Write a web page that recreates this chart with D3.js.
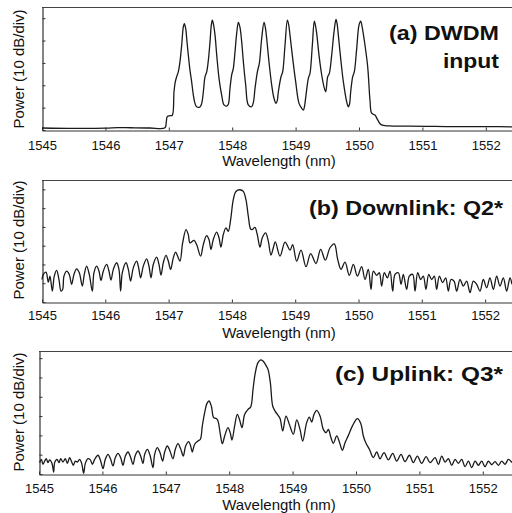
<!DOCTYPE html>
<html>
<head>
<meta charset="utf-8">
<script src="https://cdn.jsdelivr.net/npm/d3@7"></script>
<style>
  body { margin: 0; background: #fff; }
  svg { display: block; }
  text { font-family: Arial, "Liberation Sans", sans-serif; fill: #111; }
</style>
</head>
<body>
<div id="chart"></div>
<script>
// tick labels on every wavelength axis
var wavelengthTicks = [1545, 1546, 1547, 1548, 1549, 1550, 1551, 1552];
var powerTicksA = [-50, -40, -30, -20, -10, 0];
var powerTicksBC = [-60, -50, -40, -30, -20, -10, 0];

// (a) DWDM input spectrum, wavelength (nm) / power (dB)
var waveA = [1545.00, 1545.50, 1546.00, 1546.20, 1546.40, 1546.70, 1546.94, 1546.96, 1546.976, 1547.018, 1547.055,
  1547.082, 1547.103, 1547.124, 1547.150, 1547.176, 1547.203, 1547.229, 1547.245, 1547.266, 1547.287, 1547.308,
  1547.334, 1547.360, 1547.387, 1547.413, 1547.439, 1547.492,
  1547.519, 1547.545, 1547.571, 1547.598, 1547.624, 1547.650, 1547.672, 1547.687, 1547.705, 1547.729, 1547.756,
  1547.792, 1547.834, 1547.871, 1547.913,
  1547.939, 1547.965, 1547.992, 1548.018, 1548.044, 1548.070, 1548.097, 1548.122, 1548.150, 1548.176, 1548.213,
  1548.254, 1548.307,
  1548.335, 1548.360, 1548.397, 1548.428, 1548.465, 1548.502, 1548.522, 1548.544, 1548.580, 1548.623, 1548.659, 1548.691,
  1548.710, 1548.728, 1548.770, 1548.796, 1548.833, 1548.870, 1548.890, 1548.912, 1548.954, 1549.001, 1549.054,
  1549.096, 1549.122,
  1549.140, 1549.164, 1549.201, 1549.227, 1549.264, 1549.295, 1549.315, 1549.333, 1549.369, 1549.412, 1549.448,
  1549.475, 1549.506, 1549.532,
  1549.569, 1549.606, 1549.637, 1549.655, 1549.674, 1549.711, 1549.753, 1549.806, 1549.832,
  1549.850, 1549.869, 1549.900, 1549.926, 1549.964, 1550.000, 1550.027, 1550.050, 1550.083, 1550.137, 1550.173,
  1550.200, 1550.252, 1550.295, 1550.347, 1550.478, 1550.800, 1551.200, 1551.600, 1552.000, 1552.500];
var powerA = [-49.1, -49.3, -49.2, -48.9, -49.0, -49.1, -49.0, -46.5, -44.0, -43.6, -43.4,
  -32.9, -28.4, -26.2, -24.0, -19.5, -12.1, -3.9, -2.4, -4.6, -10.6, -16.5,
  -23.2, -28.4, -34.4, -38.1, -39.6, -39.7,
  -38.1, -32.9, -26.2, -24.0, -18.8, -10.6, -2.8, -0.9, -2.8, -7.6, -16.5,
  -26.9, -34.4, -38.8, -39.3,
  -38.5, -31.4, -25.4, -22.4, -15.1, -7.0, -1.9, -4.0, -10.6, -19.5, -29.9,
  -38.8, -39.6,
  -37.5, -31.4, -24.0, -20.2, -9.1, -1.9, -4.0, -9.1, -19.5, -29.9, -35.8, -38.1,
  -37.0, -32.9, -26.2, -24.0, -12.1, -0.9, -2.8, -7.6, -18.0, -28.4, -38.1,
  -40.3, -41.1,
  -39.5, -34.4, -26.9, -24.7, -12.1, -1.3, -3.5, -6.8, -16.5, -25.4, -30.7,
  -32.9, -26.2, -24.7,
  -16.5, -6.1, -0.6, -2.5, -7.6, -18.0, -28.4, -37.4, -39.6,
  -38.5, -32.9, -26.2, -24.0, -13.5, -3.1, -1.3, -4.0, -9.8, -21.7, -36.6,
  -42.5, -43.3, -45.5, -47.6, -48.2, -48.3, -48.4, -48.5, -48.5, -48.6];

// (b) Downlink Q2*
var waveB = [1545.000, 1545.021, 1545.063, 1545.100, 1545.126, 1545.163, 1545.194, 1545.231, 1545.268, 1545.300,
  1545.326, 1545.347, 1545.389, 1545.431, 1545.468, 1545.505, 1545.547, 1545.589, 1545.637, 1545.668, 1545.705,
  1545.747, 1545.795, 1545.821, 1545.863, 1545.900, 1545.932, 1545.969, 1546.021, 1546.058, 1546.090, 1546.127,
  1546.179, 1546.216, 1546.242, 1546.269, 1546.327, 1546.364, 1546.400, 1546.442, 1546.495, 1546.527, 1546.558,
  1546.600, 1546.653, 1546.690, 1546.722, 1546.758, 1546.811, 1546.848, 1546.880, 1546.916, 1546.959, 1546.995,
  1547.032, 1547.074, 1547.111, 1547.143, 1547.180, 1547.222, 1547.275, 1547.311, 1547.338, 1547.401, 1547.443,
  1547.506, 1547.548, 1547.601, 1547.638, 1547.669, 1547.706, 1547.759, 1547.796, 1547.827, 1547.864, 1547.906,
  1547.943, 1547.980, 1548.022, 1548.064, 1548.128, 1548.180, 1548.222, 1548.259, 1548.296, 1548.322, 1548.364,
  1548.401, 1548.444, 1548.480, 1548.533, 1548.575, 1548.617, 1548.654, 1548.686, 1548.760, 1548.840, 1548.918,
  1548.960, 1549.023, 1549.092, 1549.171, 1549.244, 1549.329, 1549.402, 1549.476, 1549.550, 1549.618, 1549.671,
  1549.724, 1549.787, 1549.855, 1549.919, 1549.982, 1550.050, 1550.103, 1550.155, 1550.198, 1550.234, 1550.287,
  1550.329, 1550.366, 1550.408, 1550.456, 1550.498, 1550.540, 1550.577, 1550.630, 1550.672, 1550.708, 1550.761,
  1550.803, 1550.856, 1550.893, 1550.935, 1550.982, 1551.024, 1551.066, 1551.109, 1551.156, 1551.198, 1551.235,
  1551.277, 1551.330, 1551.377, 1551.419, 1551.461, 1551.509, 1551.551, 1551.604, 1551.656, 1551.709, 1551.762,
  1551.814, 1551.867, 1551.920, 1551.972, 1552.025, 1552.077, 1552.130, 1552.183, 1552.235, 1552.288, 1552.341,
  1552.393, 1552.425];
var powerB = [-48.0, -45.3, -44.1, -49.4, -46.2, -54.2, -46.2, -43.2, -48.0, -54.2,
  -53.3, -46.2, -43.5, -45.3, -50.6, -45.3, -42.3, -44.4, -51.5, -45.3, -40.9,
  -45.3, -54.2, -44.4, -40.9, -43.5, -48.5, -43.5, -40.0, -43.5, -48.3, -42.6,
  -39.1, -42.6, -54.2, -44.4, -39.1, -42.6, -48.8, -41.8, -38.2, -41.8, -47.1,
  -40.9, -37.0, -40.9, -47.1, -40.0, -36.1, -40.0, -45.7, -39.1, -35.2, -38.2,
  -42.6, -36.5, -33.4, -35.6, -38.2, -28.5, -21.4, -24.1, -28.5, -27.2, -29.4,
  -35.6, -29.4, -24.6, -26.7, -32.0, -26.7, -22.8, -25.8, -30.8, -24.1, -20.5,
  -22.3, -16.1, -5.5, -1.1, -0.2, -1.1, -5.5, -14.3, -21.1, -21.4, -20.2,
  -24.1, -30.8, -25.8, -23.2, -27.6, -35.0, -31.1, -28.0, -35.6, -28.1, -32.4,
  -29.4, -38.2, -32.4, -41.2, -34.2, -39.5, -32.0, -37.7, -31.1, -29.0, -37.3,
  -42.6, -38.8, -45.8, -40.0, -46.2, -41.2, -48.0, -42.6, -53.3, -43.5, -45.8,
  -44.4, -51.5, -44.4, -47.1, -43.5, -54.2, -45.3, -44.4, -50.6, -45.3, -53.3,
  -46.2, -45.3, -54.2, -44.4, -48.0, -46.2, -53.3, -45.3, -48.0, -46.2, -53.3,
  -46.2, -49.7, -47.1, -54.2, -48.0, -48.9, -54.2, -48.0, -51.5, -48.9, -55.0,
  -48.9, -50.6, -54.2, -48.0, -52.4, -47.1, -53.3, -46.2, -51.5, -47.1, -54.2,
  -47.1, -50.6];

// (c) Uplink Q3*
var waveC = [1545.010, 1545.037, 1545.063, 1545.089, 1545.115, 1545.142, 1545.168, 1545.205, 1545.231, 1545.247,
  1545.284, 1545.315, 1545.342, 1545.378, 1545.415, 1545.447, 1545.483, 1545.510, 1545.541, 1545.573, 1545.604,
  1545.641, 1545.673, 1545.704, 1545.731, 1545.773, 1545.810, 1545.841, 1545.878, 1545.930, 1545.973, 1546.009,
  1546.046, 1546.088, 1546.130, 1546.167, 1546.204, 1546.246, 1546.288, 1546.325, 1546.362, 1546.404, 1546.446,
  1546.483, 1546.519, 1546.561, 1546.603, 1546.640, 1546.667, 1546.709, 1546.751, 1546.798, 1546.824, 1546.866,
  1546.908, 1546.950, 1546.982, 1547.024, 1547.066, 1547.113, 1547.150, 1547.192, 1547.234, 1547.276, 1547.313,
  1547.361, 1547.392, 1547.418, 1547.455, 1547.508, 1547.545, 1547.576, 1547.613, 1547.650, 1547.681, 1547.718,
  1547.755, 1547.797, 1547.823, 1547.860, 1547.892, 1547.929, 1547.981, 1548.018, 1548.044, 1548.086, 1548.128,
  1548.165, 1548.202, 1548.244, 1548.297, 1548.339, 1548.376, 1548.412, 1548.454, 1548.496, 1548.533, 1548.570,
  1548.612, 1548.649, 1548.686, 1548.723, 1548.760, 1548.802, 1548.844, 1548.896, 1548.949, 1549.012, 1549.065,
  1549.117, 1549.159, 1549.222, 1549.264, 1549.301, 1549.338, 1549.380, 1549.433, 1549.485, 1549.527, 1549.564,
  1549.601, 1549.643, 1549.696, 1549.738, 1549.785, 1549.827, 1549.880, 1549.948, 1550.022, 1550.074, 1550.116,
  1550.158, 1550.211, 1550.274, 1550.327, 1550.379, 1550.442, 1550.511, 1550.579, 1550.642, 1550.710, 1550.773,
  1550.842, 1550.905, 1550.968, 1551.036, 1551.105, 1551.168, 1551.247, 1551.299, 1551.352, 1551.404, 1551.457,
  1551.510, 1551.562, 1551.615, 1551.667, 1551.720, 1551.773, 1551.825, 1551.878, 1551.930, 1551.983, 1552.035,
  1552.088, 1552.141, 1552.193, 1552.246, 1552.298, 1552.351, 1552.404, 1552.461];
var powerC = [-54.1, -52.4, -55.0, -53.3, -52.1, -54.1, -52.7, -54.5, -59.0, -54.1,
  -52.4, -54.1, -52.1, -53.8, -52.1, -54.5, -51.5, -53.3, -55.5, -53.3, -53.8,
  -52.4, -54.5, -59.6, -54.5, -52.1, -52.7, -55.0, -52.4, -50.3, -53.3, -57.2,
  -52.4, -49.8, -52.4, -55.8, -51.5, -49.3, -51.5, -55.5, -50.7, -48.6, -51.5,
  -55.0, -50.3, -48.1, -50.7, -54.5, -49.8, -47.2, -50.3, -56.7, -49.8, -46.3,
  -48.9, -53.3, -48.6, -45.5, -48.1, -52.1, -47.2, -44.3, -46.9, -50.7, -45.5,
  -43.2, -45.5, -48.6, -44.6, -42.9, -42.0, -35.1, -28.2, -23.4, -22.2, -24.8,
  -30.8, -31.3, -32.5, -39.4, -44.3, -40.3, -36.0, -38.9, -42.4, -35.1, -29.1,
  -32.0, -36.0, -29.1, -26.5, -25.3, -16.1, -7.5, -2.3, -0.9, -1.5, -3.2,
  -5.8, -12.7, -24.8, -27.4, -29.1, -31.3, -37.7, -30.0, -34.3, -39.4, -32.0,
  -36.9, -42.9, -33.4, -30.5, -33.1, -29.1, -27.0, -30.0, -36.9, -38.6, -36.9,
  -40.7, -44.1, -40.3, -43.4, -47.7, -43.8, -40.0, -34.8, -31.3, -33.7, -40.3,
  -44.1, -47.2, -51.5, -48.6, -52.1, -48.9, -52.7, -49.3, -53.3, -49.8, -53.6,
  -50.3, -54.1, -50.7, -54.5, -51.0, -54.1, -51.5, -55.0, -50.7, -53.8, -52.1,
  -55.5, -52.4, -54.5, -52.4, -56.2, -53.3, -56.7, -53.3, -55.5, -53.3, -56.2,
  -53.4, -55.2, -53.6, -55.5, -53.3, -55.0, -52.4, -54.1];

var titleA = ["(a) DWDM", "input"];
var titleB = ["(b) Downlink: Q2*"];
var titleC = ["(c) Uplink: Q3*"];

var width = 512, height = 513;
var svg = d3.select("#chart").append("svg")
    .attr("width", width)
    .attr("height", height);

var panels = [
  { wave: waveA, power: powerA, ticks: powerTicksA, yMin: -50, yMax: 5,
    left: 42, top: 7, bottom: 130, pxPerNm: 63.4, tickPad: 10, yLabelY: 69, xLabelY: 166,
    title: titleA, titleX: [389, 443], titleY: [40, 68], titleLen: [110, 56] },
  { wave: waveB, power: powerB, ticks: powerTicksBC, yMin: -60, yMax: 5,
    left: 42, top: 180, bottom: 302, pxPerNm: 63.3, tickPad: 8, yLabelY: 240, xLabelY: 338,
    title: titleB, titleX: [309], titleY: [215], titleLen: [194] },
  { wave: waveC, power: powerC, ticks: powerTicksBC, yMin: -60, yMax: 3.7,
    left: 39, top: 351, bottom: 474, pxPerNm: 63.4, tickPad: 9, yLabelY: 412, xLabelY: 510,
    title: titleC, titleX: [335], titleY: [381], titleLen: [168] }
];

panels.forEach(function(p) {
  var x = d3.scaleLinear()
      .domain([1545, 1552.5])
      .range([p.left, p.left + 7.5 * p.pxPerNm]);
  var y = d3.scaleLinear()
      .domain([p.yMin, p.yMax])
      .range([p.bottom, p.top]);

  var g = svg.append("g");

  // top frame line
  g.append("line")
      .attr("x1", p.left).attr("x2", width)
      .attr("y1", p.top + 0.5).attr("y2", p.top + 0.5)
      .attr("stroke", "#444").attr("stroke-width", 1);

  // bottom axis
  var xAxis = g.append("g")
      .attr("transform", "translate(0," + (p.bottom + 0.5) + ")")
      .call(d3.axisBottom(x)
        .tickValues(wavelengthTicks)
        .tickSizeInner(-3)
        .tickSizeOuter(0)
        .tickPadding(p.tickPad)
        .tickFormat(d3.format("d")));
  xAxis.select(".domain").attr("stroke", "#333").attr("stroke-width", 1.2);
  xAxis.selectAll(".tick line").attr("stroke", "#333");
  xAxis.selectAll("text")
      .style("font-size", "13px")
      .style("font-family", "Arial, 'Liberation Sans', sans-serif")
      .attr("fill", "#111");

  // left axis
  var yAxis = g.append("g")
      .attr("transform", "translate(" + (p.left + 0.5) + ",0)")
      .call(d3.axisLeft(y)
        .tickValues(p.ticks)
        .tickSizeInner(-3)
        .tickSizeOuter(0)
        .tickFormat(""));
  yAxis.select(".domain").attr("stroke", "#333").attr("stroke-width", 1.2);
  yAxis.selectAll(".tick line").attr("stroke", "#333");

  // spectrum trace
  var line = d3.line()
      .x(function(d) { return x(d[0]); })
      .y(function(d) { return y(d[1]); })
      .curve(d3.curveCatmullRom.alpha(0.5));

  g.append("path")
      .datum(d3.zip(p.wave, p.power))
      .attr("fill", "none")
      .attr("stroke", "#1a1a1a")
      .attr("stroke-width", 1.3)
      .attr("stroke-linejoin", "round")
      .attr("d", line);

  // axis titles
  g.append("text")
      .attr("transform", "translate(24," + p.yLabelY + ")rotate(-90)")
      .attr("text-anchor", "middle")
      .style("font-size", "15px")
      .text("Power (10 dB/div)");

  g.append("text")
      .attr("x", 279)
      .attr("y", p.xLabelY)
      .attr("text-anchor", "middle")
      .style("font-size", "15px")
      .text("Wavelength (nm)");

  // panel label
  p.title.forEach(function(t, i) {
    g.append("text")
        .attr("x", p.titleX[i])
        .attr("y", p.titleY[i])
        .attr("textLength", p.titleLen[i])
        .attr("lengthAdjust", "spacingAndGlyphs")
        .style("font-size", "21px")
        .style("font-weight", "bold")
        .text(t);
  });
});
</script>
</body>
</html>
